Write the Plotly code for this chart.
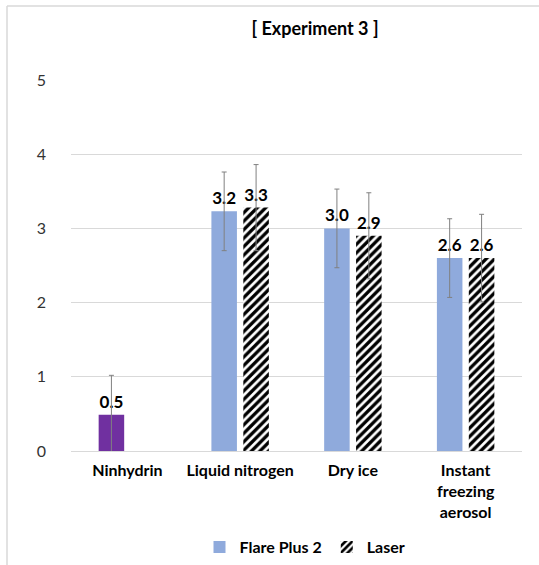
import plotly.graph_objects as go

categories = ["Ninhydrin", "Liquid nitrogen", "Dry ice", "Instant<br>freezing<br>aerosol"]
ninhydrin_value = [0.49, None, None, None]
ninhydrin_error = [0.53, 0, 0, 0]
flare_values = [None, 3.23, 3.00, 2.60]
flare_errors = [0, 0.53, 0.53, 0.53]
laser_values = [None, 3.28, 2.90, 2.60]
laser_errors = [0, 0.58, 0.58, 0.59]
y_ticks = [0, 1, 2, 3, 4, 5]

FONT = "Lato"
W, H = 539, 565
ML, MR, MT, MB = 71, 17, 80, 114
PW, PH = W - ML - MR, H - MT - MB

err_style = dict(type="data", visible=True, color="#808080", thickness=1, width=2.5)
text_font = dict(family=FONT, size=17, color="#000000", weight="bold")

fig = go.Figure()
fig.add_trace(go.Bar(
    x=categories, y=ninhydrin_value, name="Ninhydrin", showlegend=False,
    offsetgroup="flare", marker=dict(color="#7030a0", line=dict(width=0)),
    error_y=dict(array=ninhydrin_error, **err_style),
    texttemplate="%{y:.1f}", textposition="outside", textfont=text_font, cliponaxis=False,
))
fig.add_trace(go.Bar(
    x=categories, y=flare_values, name="Flare Plus 2",
    offsetgroup="flare", marker=dict(color="#8faadc", line=dict(width=0)),
    error_y=dict(array=flare_errors, **err_style),
    texttemplate="%{y:.1f}", textposition="outside", textfont=text_font, cliponaxis=False,
))
fig.add_trace(go.Bar(
    x=categories, y=laser_values, name="Laser",
    offsetgroup="laser",
    marker=dict(color="#ffffff", line=dict(width=0),
                pattern=dict(shape="/", fgcolor="#000000", bgcolor="#ffffff", size=6,
                             solidity=0.55, fgopacity=1)),
    error_y=dict(array=laser_errors, **err_style),
    texttemplate="%{y:.1f}", textposition="outside", textfont=text_font, cliponaxis=False,
))

def px_x(p):
    return (p - ML) / PW

def px_y(p):
    return (H - MB - p) / PH

fig.update_layout(
    width=W, height=H,
    margin=dict(l=ML, r=MR, t=MT, b=MB, autoexpand=False),
    paper_bgcolor="#ffffff", plot_bgcolor="#ffffff",
    barmode="group", bargap=0.434, bargroupgap=0.2,
    font=dict(family=FONT, color="#000000"),
    title=dict(text="[ Experiment 3 ]", x=315 / W, xanchor="center", xref="container",
               y=1 - 29 / H, yanchor="middle", yref="container",
               font=dict(family=FONT, size=18, color="#000000", weight="bold")),
    xaxis=dict(showgrid=False, showline=True, linecolor="#d9d9d9", linewidth=1,
               ticks="", automargin=False,
               tickfont=dict(family=FONT, size=16, color="#000000", weight="bold"),
               ticklabelstandoff=5),
    yaxis=dict(range=[0, 5], tickvals=y_ticks, showgrid=True, gridcolor="#d9d9d9", gridwidth=1,
               zeroline=False, showline=False, ticks="", automargin=False,
               tickfont=dict(family=FONT, size=16, color="#333333"),
               ticklabelstandoff=24),
    legend=dict(orientation="h", x=px_x(305), xanchor="center", y=px_y(547), yanchor="middle",
                font=dict(family=FONT, size=16, color="#000000", weight="bold"),
                itemwidth=30, bgcolor="rgba(0,0,0,0)", tracegroupgap=0),
    shapes=[
        dict(type="line", xref="paper", yref="paper", x0=px_x(7), x1=px_x(W), y0=px_y(6), y1=px_y(6),
             line=dict(color="#d9d9d9", width=1.5)),
        dict(type="line", xref="paper", yref="paper", x0=px_x(7), x1=px_x(7), y0=px_y(6), y1=px_y(H),
             line=dict(color="#d9d9d9", width=1.5)),
    ],
)

fig.write_html("out.html", config={"displayModeBar": False},
               post_script="document.body.style.margin='0';")
